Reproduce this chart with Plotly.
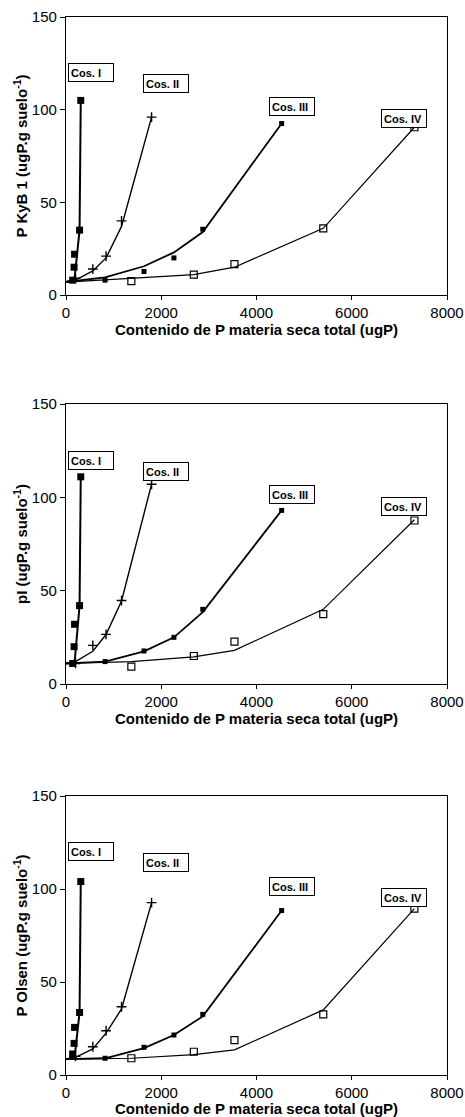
import plotly.graph_objects as go
from plotly.subplots import make_subplots

# ---------------- data ----------------
series_names = ["Cos. I", "Cos. II", "Cos. III", "Cos. IV"]

# P content in total dry matter (ugP), shared by the three panels
x_cos1 = [140, 170, 180, 285, 310]
x_cos2 = [200, 563, 841, 1166, 1797]
x_cos3 = [820, 1638, 2266, 2872, 4528]
x_cos4 = [1372, 2684, 3537, 5402, 7316]

# fitted curves start at x = 0, then pass through each harvest's x values
fit_x_cos1 = [0] + x_cos1
fit_x_cos2 = [0] + x_cos2
fit_x_cos3 = [0] + x_cos3
fit_x_cos4 = [0] + x_cos4

# Panel 1: P KyB 1
kyb_cos1 = [8, 15, 22, 35, 105]
kyb_cos2 = [9, 14, 21, 40, 96]
kyb_cos3 = [8, 12.7, 20, 35.5, 92.5]
kyb_cos4 = [7.5, 11, 16.7, 36, 90.5]
kyb_fit_cos1 = [7, 8, 8.5, 9, 35, 105]
kyb_fit_cos2 = [7, 8, 13, 20, 37, 96]
kyb_fit_cos3 = [7, 9.5, 15.5, 23, 34, 92.5]
kyb_fit_cos4 = [7, 9, 11, 15, 36, 90.5]

# Panel 2: pI
pi_cos1 = [11, 20, 32, 42, 111]
pi_cos2 = [11, 20.7, 26.6, 44.7, 107]
pi_cos3 = [12, 17.7, 25, 40, 93]
pi_cos4 = [9.3, 15, 22.7, 37.4, 87.6]
pi_fit_cos1 = [11, 11, 11.2, 11.5, 42, 111]
pi_fit_cos2 = [11, 12, 17.5, 26.5, 44.5, 107]
pi_fit_cos3 = [11, 12, 17.5, 25, 38.5, 93]
pi_fit_cos4 = [11, 12, 14.5, 18, 40, 88]

# Panel 3: P Olsen
ol_cos1 = [11.3, 17, 25.6, 33.6, 104]
ol_cos2 = [10, 15.2, 23.8, 36.7, 92.7]
ol_cos3 = [9, 14.9, 21.5, 32.6, 88.4]
ol_cos4 = [9, 12.5, 18.8, 32.6, 89.5]
ol_fit_cos1 = [8.5, 9, 9.2, 9.5, 33.6, 104]
ol_fit_cos2 = [8.5, 9.5, 14, 22.5, 35.5, 92.7]
ol_fit_cos3 = [8.5, 9, 14.5, 21.5, 31.5, 88.4]
ol_fit_cos4 = [8.5, 9, 11, 13.5, 35, 89.5]

y_titles = ["P KyB 1 (ugP.g suelo<sup>-1</sup>)",
            "pI (ugP.g suelo<sup>-1</sup>)",
            "P Olsen (ugP.g suelo<sup>-1</sup>)"]
x_title = "Contenido de P materia seca total (ugP)"
x_ticks = [0, 2000, 4000, 6000, 8000]
y_ticks = [0, 50, 100, 150]

# ---------------- figure ----------------
FONT = "Liberation Sans, Arial, sans-serif"
W, H = 465, 1117
ML, MR, MT, MB = 66, 18, 17, 42

fig = make_subplots(rows=3, cols=1)

xs = [x_cos1, x_cos2, x_cos3, x_cos4]
fxs = [fit_x_cos1, fit_x_cos2, fit_x_cos3, fit_x_cos4]
panels = [
    ([kyb_cos1, kyb_cos2, kyb_cos3, kyb_cos4], [kyb_fit_cos1, kyb_fit_cos2, kyb_fit_cos3, kyb_fit_cos4]),
    ([pi_cos1, pi_cos2, pi_cos3, pi_cos4], [pi_fit_cos1, pi_fit_cos2, pi_fit_cos3, pi_fit_cos4]),
    ([ol_cos1, ol_cos2, ol_cos3, ol_cos4], [ol_fit_cos1, ol_fit_cos2, ol_fit_cos3, ol_fit_cos4]),
]
line_widths = [2.0, 1.4, 1.8, 1.2]
markers = [
    dict(symbol="square", size=7, color="black"),
    dict(symbol="cross-thin", size=7, color="black", line=dict(color="black", width=1.4)),
    dict(symbol="square", size=5, color="black"),
    dict(symbol="square-open", size=7, color="black", line=dict(color="black", width=1.2)),
]

for r, (ys, fys) in enumerate(panels, start=1):
    for i in range(4):
        fig.add_trace(go.Scatter(x=fxs[i], y=fys[i], mode="lines",
                                 line=dict(color="black", width=line_widths[i]),
                                 showlegend=False, hoverinfo="skip"), row=r, col=1)
        fig.add_trace(go.Scatter(x=xs[i], y=ys[i], mode="markers", name=series_names[i],
                                 marker=markers[i], showlegend=False), row=r, col=1)

# panel domains in pixels (top, bottom)
panel_px = [(17, 295), (404, 684), (796, 1075)]
plot_h = H - MT - MB
def to_paper(ypx):
    return (H - MB - ypx) / plot_h

label_pos = [(520, 120), (2090, 114), (4740, 101.5), (7100, 95.3)]

for r in range(1, 4):
    top, bot = panel_px[r - 1]
    ya = "yaxis" if r == 1 else f"yaxis{r}"
    fig.layout[ya].domain = [to_paper(bot), min(1.0, to_paper(top))]
    fig.update_xaxes(row=r, col=1, range=[0, 8000], tickvals=x_ticks,
                     showline=True, linecolor="black", linewidth=1.3, mirror=True,
                     ticks="outside", ticklen=4, tickcolor="black",
                     showgrid=False, zeroline=False, automargin=False,
                     tickfont=dict(family=FONT, size=15, color="black"),
                     title=dict(text=f"<b>{x_title}</b>", standoff=3,
                                font=dict(family=FONT, size=15, color="black")))
    fig.update_yaxes(row=r, col=1, range=[0, 150], tickvals=y_ticks,
                     showline=True, linecolor="black", linewidth=1.3, mirror=True,
                     ticks="outside", ticklen=5, tickcolor="black",
                     showgrid=False, zeroline=False, automargin=False,
                     tickfont=dict(family=FONT, size=15, color="black"),
                     title=dict(text=f"<b>{y_titles[r-1]}</b>", standoff=0,
                                font=dict(family=FONT, size=15, color="black")))
    xref = "x" if r == 1 else f"x{r}"
    yref = "y" if r == 1 else f"y{r}"
    for name, (lx, ly) in zip(series_names, label_pos):
        fig.add_annotation(x=lx, y=ly, xref=xref, yref=yref, text=f"<b>{name}</b>",
                           showarrow=False, xanchor="center", yanchor="middle",
                           align="left", width=40, height=13,
                           font=dict(family=FONT, size=11, color="black"),
                           bordercolor="black", borderwidth=1, borderpad=2,
                           bgcolor="white")

fig.update_layout(width=W, height=H, margin=dict(l=ML, r=MR, t=MT, b=MB),
                  paper_bgcolor="white", plot_bgcolor="white",
                  font=dict(family=FONT, color="black"), showlegend=False)

fig.write_html("out.html", config={"displayModeBar": False},
               post_script="document.body.style.margin='0';document.body.style.overflow='hidden';")
